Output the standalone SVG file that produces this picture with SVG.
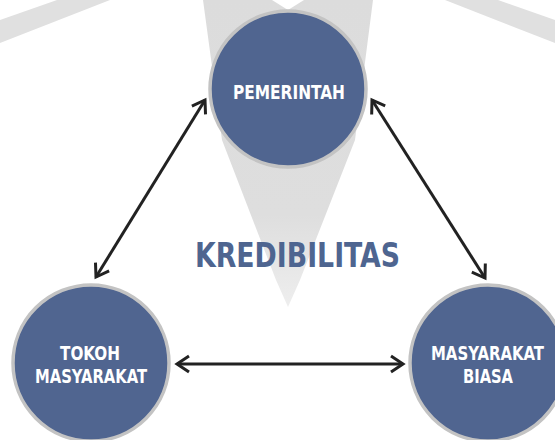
<svg xmlns="http://www.w3.org/2000/svg" width="555" height="440" viewBox="0 0 555 440">
  <style>
    .wm { fill: #e0e0e0; }
    .node circle { fill: #506590; stroke: #c3c3c3; stroke-width: 3.5; }
    .node text { fill: #ffffff; font-family: "DejaVu Sans Condensed", "Liberation Sans", sans-serif; font-weight: bold; font-stretch: condensed; font-size: 19.5px; text-anchor: middle; }
    .title { fill: #4E6590; font-family: "DejaVu Sans Condensed", "Liberation Sans", sans-serif; font-weight: bold; font-stretch: condensed; font-size: 34px; text-anchor: middle; }
    .conn line { stroke: #222222; stroke-width: 3; fill: none; }
  </style>
  <defs>
    <linearGradient id="cone" x1="0" y1="0" x2="0" y2="1">
      <stop offset="0" stop-color="#dcdcdc"/>
      <stop offset="0.7" stop-color="#dedede"/>
      <stop offset="1" stop-color="#eeeeee"/>
    </linearGradient>
    <marker id="ah" viewBox="-15 -10 18 20" refX="0" refY="0" markerWidth="18" markerHeight="20" markerUnits="userSpaceOnUse" orient="auto-start-reverse">
      <path d="M-12,-8 L0,0 L-12,8" fill="none" stroke="#222222" stroke-width="3"/>
    </marker>
  </defs>
  <rect width="555" height="440" fill="#ffffff"/>
  <g id="watermark">
    <polygon class="wm" points="0,20 57,0 110,0 0,43"/>
    <polygon class="wm" points="555,20 498,0 445,0 555,43"/>
    <path d="M203,0 L272,0 L288,10 L304,0 L373,0 L355,140 L300,280 L288,307 L276,280 L222,140 Z" fill="url(#cone)"/>
  </g>
  <g id="conn" class="conn">
    <line x1="205" y1="100" x2="96" y2="277" marker-start="url(#ah)" marker-end="url(#ah)"/>
    <line x1="372" y1="100" x2="485" y2="278" marker-start="url(#ah)" marker-end="url(#ah)"/>
    <line x1="177" y1="364" x2="403" y2="364" marker-start="url(#ah)" marker-end="url(#ah)"/>
  </g>
  <g id="pemerintah" class="node">
    <circle cx="288" cy="89" r="78"/>
    <text x="289" y="99" textLength="112" lengthAdjust="spacingAndGlyphs">PEMERINTAH</text>
  </g>
  <g id="tokoh" class="node">
    <circle cx="91" cy="363" r="78"/>
    <text x="90" y="360" textLength="60" lengthAdjust="spacingAndGlyphs">TOKOH</text>
    <text x="91" y="383" textLength="112" lengthAdjust="spacingAndGlyphs">MASYARAKAT</text>
  </g>
  <g id="biasa" class="node">
    <circle cx="488" cy="363" r="78"/>
    <text x="487.5" y="360" textLength="113" lengthAdjust="spacingAndGlyphs">MASYARAKAT</text>
    <text x="488" y="383" textLength="50" lengthAdjust="spacingAndGlyphs">BIASA</text>
  </g>
  <text id="kredibilitas" class="title" x="297.5" y="267" textLength="205" lengthAdjust="spacingAndGlyphs">KREDIBILITAS</text>
</svg>
